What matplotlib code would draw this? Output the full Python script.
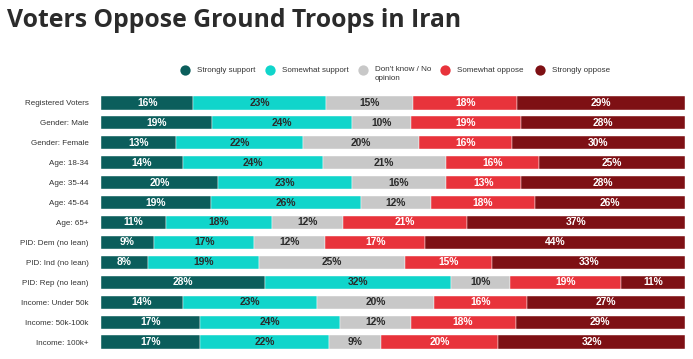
import matplotlib.pyplot as plt
import numpy as np

groups = ["Registered Voters", "Gender: Male", "Gender: Female", "Age: 18-34",
          "Age: 35-44", "Age: 45-64", "Age: 65+", "PID: Dem (no lean)",
          "PID: Ind (no lean)", "PID: Rep (no lean)", "Income: Under 50k",
          "Income: 50k-100k", "Income: 100k+"]
series = ["Strongly support", "Somewhat support", "Don't know / No\nopinion",
          "Somewhat oppose", "Strongly oppose"]
strongly_support = [16, 19, 13, 14, 20, 19, 11, 9, 8, 28, 14, 17, 17]
somewhat_support = [23, 24, 22, 24, 23, 26, 18, 17, 19, 32, 23, 24, 22]
dont_know = [15, 10, 20, 21, 16, 12, 12, 12, 25, 10, 20, 12, 9]
somewhat_oppose = [18, 19, 16, 16, 13, 18, 21, 17, 15, 19, 16, 18, 20]
strongly_oppose = [29, 28, 30, 25, 28, 26, 37, 44, 33, 11, 27, 29, 32]

colors = ["#0b5e5c", "#10d5cb", "#c8c8c8", "#e8333b", "#7e1014"]
text_colors = ["white", "#2b2b2b", "#2b2b2b", "white", "white"]

data = np.array([strongly_support, somewhat_support, dont_know,
                 somewhat_oppose, strongly_oppose], dtype=float)
share = data / data.sum(axis=0)

fig = plt.figure(figsize=(6.93, 3.59), dpi=100)
ax = fig.add_axes([0.1457, 0.0195, 0.9885 - 0.1457, 0.7215])

y = np.arange(len(groups))
left = np.zeros(len(groups))
for i in range(len(series)):
    ax.barh(y, share[i], left=left, height=0.66, color=colors[i],
            edgecolor="white", linewidth=0.3)
    for j in range(len(groups)):
        ax.text(left[j] + share[i][j] / 2, y[j], f"{int(data[i][j])}%",
                ha="center", va="center", color=text_colors[i],
                fontsize=7.4, fontweight="bold", family="Liberation Sans")
    left += share[i]

ax.set_xlim(0, 1)
ax.set_ylim(len(groups) - 0.5, -0.5)
ax.set_yticks(y)
ax.set_yticklabels(groups, fontsize=5.8, color="#333333", family="Liberation Sans")
ax.tick_params(axis="y", length=0, pad=9)
ax.set_xticks([])
for s in ax.spines.values():
    s.set_visible(False)

fig.text(0.01, 0.943, "Voters Oppose Ground Troops in Iran", fontsize=17.8,
         fontweight="bold", color="#2b2b2b", family="Open Sans", va="center")

# legend drawn in pixel coords on an overlay axes
lax = fig.add_axes([0, 0, 1, 1], zorder=-1)
lax.set_xlim(0, 693)
lax.set_ylim(359, 0)
lax.axis("off")
leg_x = [185, 270, 363, 445, 540]
for i in range(len(series)):
    lax.scatter(leg_x[i], 70, s=55, color=colors[i], linewidths=0)
    lax.text(leg_x[i] + 12, 66 if "\n" in series[i] else 70, series[i],
             fontsize=5.8, color="#333333", family="Liberation Sans",
             va="top" if "\n" in series[i] else "center", linespacing=1.3)

fig.savefig("out.png", dpi=100)
